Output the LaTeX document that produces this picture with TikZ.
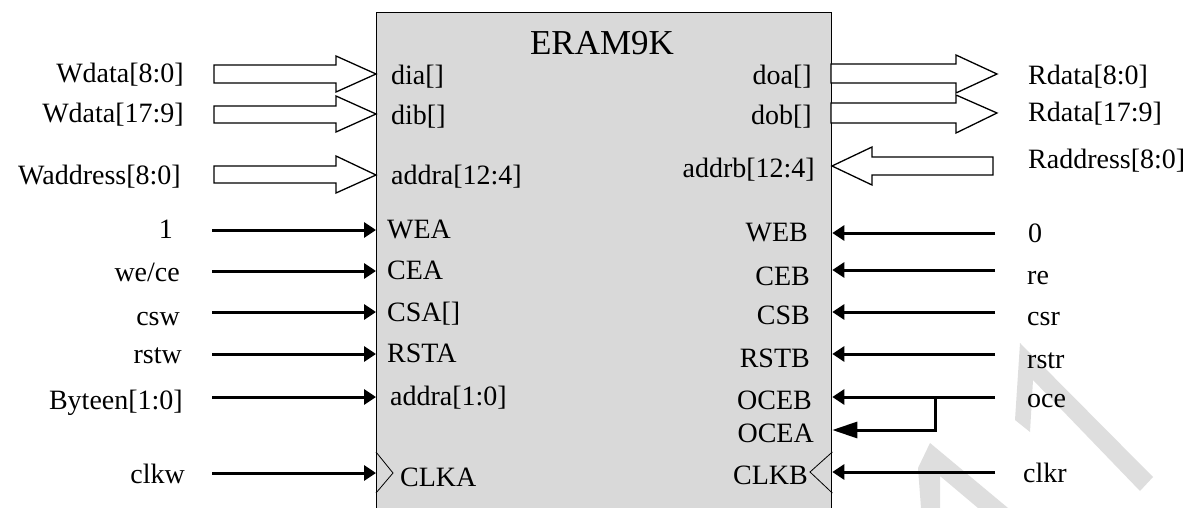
\documentclass[tikz,border=0pt]{standalone}
\usepackage{fontspec}
\setmainfont{Liberation Serif}
\usetikzlibrary{arrows.meta}
\definecolor{boxfill}{RGB}{217,217,217}
\definecolor{wmark}{RGB}{222,222,222}
\begin{document}
\begin{tikzpicture}[x=1pt,y=-1pt,
  lbl/.style={font=\fontsize{28}{30}\selectfont, inner sep=0pt},
  titlelbl/.style={font=\fontsize{35}{38}\selectfont, inner sep=0pt},
  bus/.style={draw=black, line width=1.3pt, fill=white, line join=miter},
  sig/.style={line width=3pt, -{Triangle[length=12pt,width=15pt]}},
  sigbig/.style={line width=3pt, -{Triangle[length=25pt,width=16pt]}},
  clk/.style={line width=0.8pt},
  ramst/.style={draw=black, line width=1.3pt, fill=boxfill, inner sep=0pt, minimum width=455pt, minimum height=520pt}
]
\useasboundingbox (0,0) rectangle (1192,508);
\clip (0,0) rectangle (1192,508);
% watermark
\fill[wmark] (1020,343) -- (1153,477) -- (1140,491) -- (1033,380) -- (1030,432) -- (1015,420) -- cycle;
\fill[wmark] (930,443) -- (1008,508) -- (978,508) -- (940,476) -- (940,508) -- (921,508) -- (918,468) -- cycle;
% main box
\node[ramst, anchor=north west] (ram) at (376,12) {};
\node[titlelbl, anchor=base] (title) at (602,55) {ERAM9K};
% clock triangles
\draw[clk] (ram.west |- 0,452) coordinate (ca1) -- (393,473) coordinate (ca2) -- (ram.west |- 0,493) coordinate (ca3);
\draw[clk] (ram.east |- 0,452) coordinate (cb1) -- (810,472) coordinate (cb2) -- (ram.east |- 0,493) coordinate (cb3);
% bus arrows left
\draw[bus] (214,65) -- (336,65) -- (336,56) -- (376,74) -- (336,92) -- (336,83) -- (214,83) -- cycle;
\draw[bus] (214,106) -- (336,106) -- (336,96) -- (376,114) -- (336,132) -- (336,123) -- (214,123) -- cycle;
\draw[bus] (214,166) -- (336,166) -- (336,156) -- (376,175) -- (336,193) -- (336,183) -- (214,183) -- cycle;
% bus arrows right
\draw[bus] (831,64) -- (956,64) -- (956,55) -- (997,74) -- (956,93) -- (956,83) -- (831,83) -- cycle;
\draw[bus] (831,103) -- (956,103) -- (956,95) -- (997,113) -- (956,133) -- (956,123) -- (831,123) -- cycle;
\draw[bus] (832,166) -- (872,147) -- (872,157) -- (993,157) -- (993,175) -- (872,175) -- (872,185) -- cycle;
% left outside labels
\node[lbl, anchor=base east] (wd0) at (184,83) {Wdata[8:0]};
\node[lbl, anchor=base east] (wd1) at (184,123) {Wdata[17:9]};
\node[lbl, anchor=base east] (wad) at (181,185) {Waddress[8:0]};
\node[lbl, anchor=base east] (one) at (173,238) {1};
\node[lbl, anchor=base east] (wece) at (180,281) {we/ce};
\node[lbl, anchor=base east] (csw) at (180,325) {csw};
\node[lbl, anchor=base east] (rstw) at (182,363) {rstw};
\node[lbl, anchor=base east] (byteen) at (183,409) {Byteen[1:0]};
\node[lbl, anchor=base east] (clkw) at (185,483) {clkw};
% right outside labels
\node[lbl, anchor=base west] (rd0) at (1028,85) {Rdata[8:0]};
\node[lbl, anchor=base west] (rd1) at (1028,122) {Rdata[17:9]};
\node[lbl, anchor=base west] (rad) at (1028,168) {Raddress[8:0]};
\node[lbl, anchor=base west] (zero) at (1028,242) {0};
\node[lbl, anchor=base west] (re) at (1027,284) {re};
\node[lbl, anchor=base west] (csr) at (1027,325) {csr};
\node[lbl, anchor=base west] (rstr) at (1027,368) {rstr};
\node[lbl, anchor=base west] (oce) at (1027,407) {oce};
\node[lbl, anchor=base west] (clkr) at (1023,482) {clkr};
% inner left labels
\node[lbl, anchor=base west] (dia) at (391,85) {dia[]};
\node[lbl, anchor=base west] (dib) at (391,125) {dib[]};
\node[lbl, anchor=base west] (addra) at (391,185) {addra[12:4]};
\node[lbl, anchor=base west] (wea) at (387,238) {WEA};
\node[lbl, anchor=base west] (cea) at (387,279) {CEA};
\node[lbl, anchor=base west] (csa) at (387,321) {CSA[]};
\node[lbl, anchor=base west] (rsta) at (387,362) {RSTA};
\node[lbl, anchor=base west] (addra10) at (390,405) {addra[1:0]};
\node[lbl, anchor=base west] (clka) at (400,486) {CLKA};
% inner right labels
\node[lbl, anchor=base east] (doa) at (812,85) {doa[]};
\node[lbl, anchor=base east] (dob) at (812,125) {dob[]};
\node[lbl, anchor=base east] (addrb) at (815,178) {addrb[12:4]};
\node[lbl, anchor=base east] (web) at (808,241) {WEB};
\node[lbl, anchor=base east] (ceb) at (810,285) {CEB};
\node[lbl, anchor=base east] (csb) at (810,324) {CSB};
\node[lbl, anchor=base east] (rstb) at (810,367) {RSTB};
\node[lbl, anchor=base east] (oceb) at (812,409) {OCEB};
\node[lbl, anchor=base east] (ocea) at (814,442) {OCEA};
\node[lbl, anchor=base east] (clkb) at (808,484) {CLKB};
% left signal connectors
\coordinate (s1) at (212,230);
\coordinate (s2) at (212,271);
\coordinate (s3) at (212,312);
\coordinate (s4) at (212,354);
\coordinate (s5) at (212,397);
\coordinate (s6) at (212,473);
\foreach \s in {s1,s2,s3,s4,s5,s6}
  \draw[sig] (\s) -- (\s -| ram.west);
% right signal connectors
\coordinate (t1) at (995,233);
\coordinate (t2) at (995,270);
\coordinate (t3) at (995,312);
\coordinate (t4) at (995,354);
\coordinate (t5) at (995,397);
\coordinate (t6) at (995,472);
\foreach \t in {t1,t2,t3,t4,t5,t6}
  \draw[sig] (\t) -- (\t -| ram.east);
% oce branch to OCEA
\coordinate (jn) at (935,397);
\coordinate (oceapin) at (ram.east |- 0,430);
\draw[sigbig] (jn) |- (oceapin);
\end{tikzpicture}
\end{document}
